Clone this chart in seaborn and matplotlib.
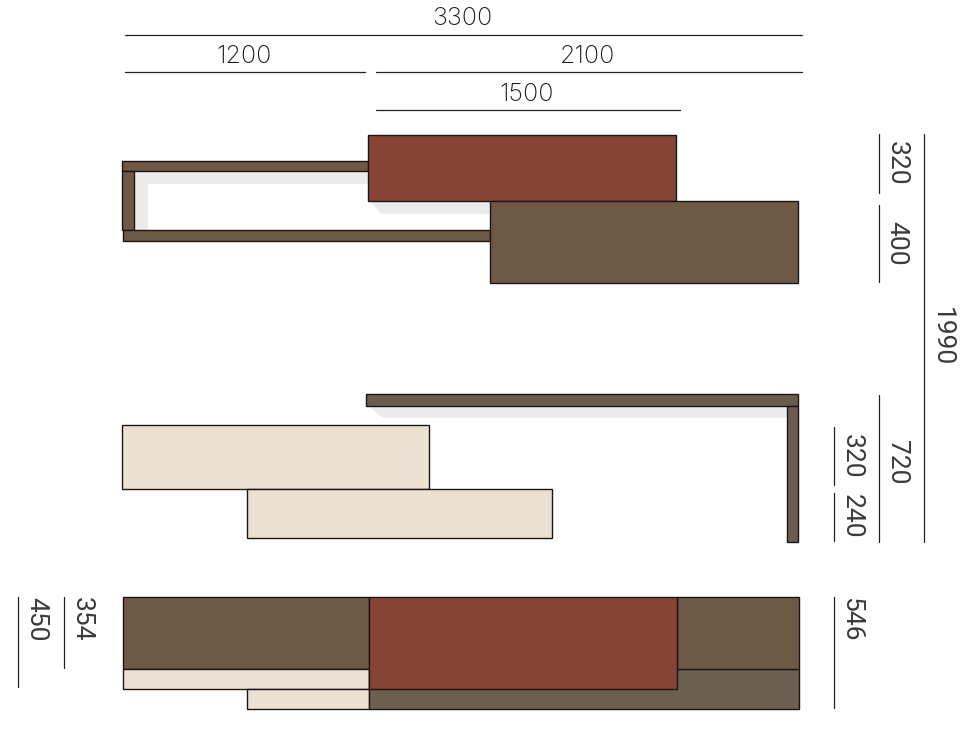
import matplotlib
matplotlib.use("Agg")
import matplotlib.pyplot as plt
import seaborn as sns

# everything is read off the picture, in pixels of the 972x737 image
# panels: name, left, right, top, bottom, colour
BROWN = "#6e5846"
RED = "#864437"
CREAM = "#eae1d3"
OLIVE = "#6b604f"
SHELF = "#6b5d4e"
SHADOW = "#ebebeb"
LINE = "#1d1512"

panel_left = [122.3, 122.3, 123.3, 368.3, 490.3,
              366.3, 787.3, 122.3, 246.5,
              123.3, 123.3, 247.3, 369.3, 676.7, 369.3]
panel_right = [368.3, 133.7, 490.3, 676.3, 798.0,
               797.7, 798.0, 429.3, 552.3,
               369.3, 369.3, 369.3, 799.3, 799.3, 676.7]
panel_top = [161.3, 171.3, 230.3, 134.7, 200.7,
             394.3, 405.7, 425.3, 489.3,
             597.3, 669.3, 689.3, 669.3, 597.3, 597.3]
panel_bottom = [171.3, 230.3, 241.3, 200.7, 282.7,
                405.7, 542.3, 489.3, 538.3,
                669.3, 689.3, 709.3, 709.3, 669.3, 689.3]
panel_colour = [BROWN, BROWN, BROWN, RED, BROWN,
                SHELF, SHELF, CREAM, CREAM,
                BROWN, CREAM, CREAM, OLIVE, BROWN, RED]

# grey cast shadows under the shelves
shadow_a_x = [133.7, 368.3, 368.3, 147.7, 147.7, 133.7]
shadow_a_y = [171.3, 171.3, 184.3, 184.3, 230.3, 230.3]
shadow_b_x = [370.0, 381.0, 490.3, 490.3]
shadow_b_y = [200.7, 213.7, 213.7, 200.7]
shadow_c_x = [368.0, 382.7, 787.3, 787.3]
shadow_c_y = [405.7, 417.7, 417.7, 405.7]

# dimension lines
h_labels = ["3300", "1200", "2100", "1500"]
h_line_y = [35, 72, 72, 110]
h_line_start = [125, 125, 376, 376]
h_line_end = [802, 365, 802, 680]
h_text_x = [462, 244, 588, 527]
h_text_y = [18.5, 56.5, 56.5, 94.5]

v_labels = ["320", "400", "1990", "720", "320", "240", "546", "354", "450"]
v_line_x = [879, 879, 924, 879, 834, 834, 834, 64, 18]
v_line_start = [134, 205, 134, 395, 427, 493, 597, 597, 597]
v_line_end = [193, 282, 542, 542, 485, 541, 708, 668, 687]
v_text_x = [896.5, 896.5, 942, 896.5, 851.5, 851.5, 851.5, 81.5, 36]
v_text_y = [163, 243, 337, 462, 456, 516, 619, 619, 619]

sns.set_theme(style="white")
plt.rcParams["font.family"] = ["Liberation Sans", "DejaVu Sans"]

fig, ax = plt.subplots(figsize=(9.72, 7.37), dpi=100)
ax.set_position([0, 0, 1, 1])

for xs, ys in [(shadow_a_x, shadow_a_y), (shadow_b_x, shadow_b_y), (shadow_c_x, shadow_c_y)]:
    ax.fill(xs, ys, color=SHADOW, linewidth=0, zorder=1)

for i in range(len(panel_left)):
    width = panel_right[i] - panel_left[i]
    height = panel_bottom[i] - panel_top[i]
    centre = (panel_top[i] + panel_bottom[i]) / 2
    sns.barplot(x=[width], y=[centre], orient="h", native_scale=True,
                left=panel_left[i], width=height, color=panel_colour[i],
                saturation=1, edgecolor=LINE, linewidth=1.0, zorder=2 + i, ax=ax)

for i in range(len(h_labels)):
    ax.plot([h_line_start[i], h_line_end[i]], [h_line_y[i], h_line_y[i]], color="#222222", lw=0.9)
    ax.text(h_text_x[i], h_text_y[i], h_labels[i], fontsize=18, color="#1a1a1a",
            family=["Inter", "Liberation Sans"], fontweight="light", ha="center", va="center")

for i in range(len(v_labels)):
    ax.plot([v_line_x[i], v_line_x[i]], [v_line_start[i], v_line_end[i]], color="#222222", lw=0.9)
    ax.text(v_text_x[i], v_text_y[i], v_labels[i], fontsize=19, color="#3a3a3a",
            family=["Roboto", "Liberation Sans"], rotation=-90, ha="center", va="center")

ax.set_xlim(0, 972)
ax.set_ylim(737, 0)
ax.axis("off")

fig.savefig("out.png", dpi=100)
